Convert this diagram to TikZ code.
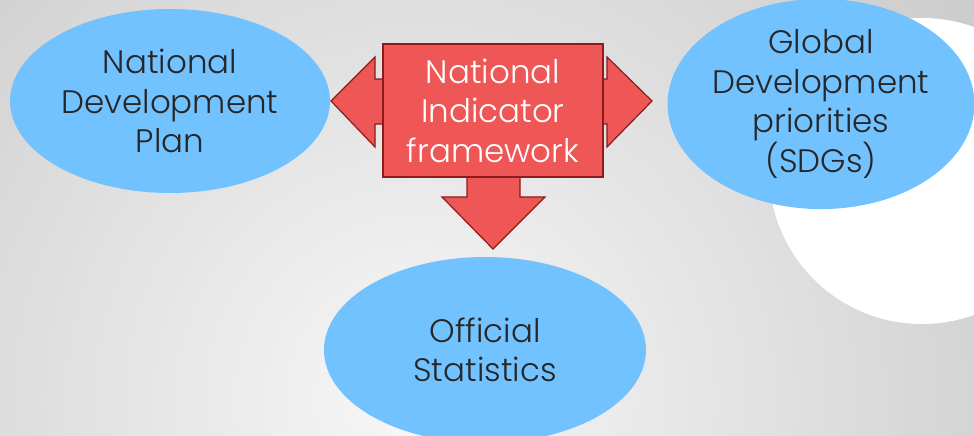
\documentclass[tikz,border=0pt]{standalone}
\usepackage{fontspec}
\setmainfont{Poppins}[UprightFont=* Light]
\usetikzlibrary{shapes.geometric}
\definecolor{ellblue}{HTML}{71C2FF}
\definecolor{arrred}{HTML}{EF5656}
\definecolor{arrline}{HTML}{8E1A1A}
\definecolor{txtgray}{HTML}{262626}
\tikzset{
  ell/.style={ellipse, fill=ellblue, draw=none, text=txtgray, align=center,
    font=\fontsize{32.5}{39.5}\selectfont, inner sep=0pt},
  redshape/.style={fill=arrred, draw=arrline, line width=1.2pt, line join=miter},
}
\begin{document}
\begin{tikzpicture}[x=1pt,y=-1pt]
\useasboundingbox (0,0) rectangle (974,436);
\begin{scope}
\clip (0,0) rectangle (974,436);
\shade[inner color=white!97!black, outer color=black!22] (420,400) circle (760);
\fill[white] (922,171) circle (153);
% ellipses
\node[ell, minimum width=320, minimum height=184] (ndp) at (170,101) {National\\Development\\Plan};
\node[ell, minimum width=306, minimum height=184] (gdp) at (821,104) {Global\\Development\\priorities\\(SDGs)};
\node[ell, minimum width=322, minimum height=186] (os) at (485,350) {Official\\Statistics};
\end{scope}
% red arrows
\coordinate (bc) at (493,110.5);
\path[redshape] (383,79) -- (375,79) -- (375,57) -- (331,101) -- (375,147) -- (375,124) -- (383,124) -- cycle;
\path[redshape] (603,79) -- (607,79) -- (607,57) -- (652,101) -- (607,147) -- (607,124) -- (603,124) -- cycle;
\path[redshape] (467,177) -- (467,197) -- (442,197) -- (493,249) -- (545,197) -- (520,197) -- (520,177) -- cycle;
\node[redshape, rectangle, minimum width=220, minimum height=133, inner sep=0pt,
  text=white, align=center, font=\fontsize{32.5}{39.5}\selectfont] (nif) at (bc) {National\\Indicator\\framework};
\end{tikzpicture}
\end{document}
